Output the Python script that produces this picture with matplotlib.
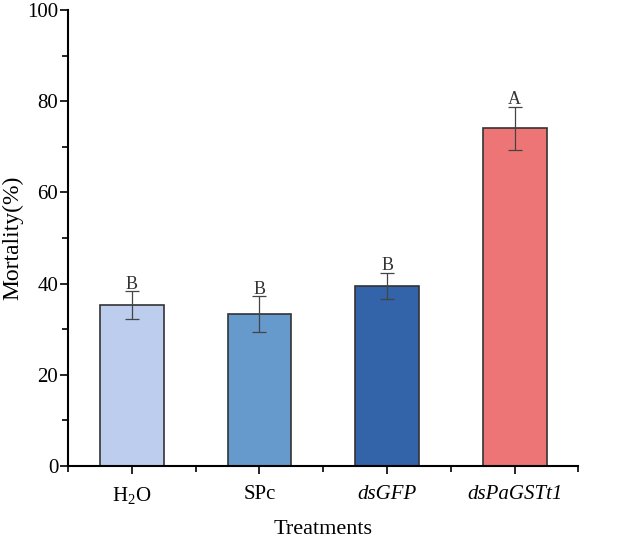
import numpy as np
import matplotlib.pyplot as plt
from matplotlib.ticker import MultipleLocator, FixedLocator

plt.rcParams['font.family'] = ['Liberation Serif', 'DejaVu Serif']
plt.rcParams['mathtext.fontset'] = 'custom'
plt.rcParams['mathtext.rm'] = 'Liberation Serif'
plt.rcParams['mathtext.it'] = 'Liberation Serif:italic'

# data
treatments = ["H$_2$O", "SPc", "dsGFP", "dsPaGSTt1"]
italic_label = [False, False, True, True]
mortality = [35.3, 33.3, 39.5, 74.1]
errors = [3.0, 3.9, 2.9, 4.7]
letters = ["B", "B", "B", "A"]
colors = ["#BCCDEE", "#6699CC", "#3363A8", "#EE7575"]

fig = plt.figure(figsize=(6.21, 5.39), dpi=100)
ax = fig.add_axes([0.1095, 0.1354, 0.822, 0.846])

x = np.arange(1, len(treatments) + 1)
ax.bar(x, mortality, width=0.5, color=colors, edgecolor="#333333", linewidth=1.2, zorder=2)
ax.errorbar(x, mortality, yerr=errors, fmt="none", ecolor="#444444",
            elinewidth=0.9, capsize=5, capthick=0.9, zorder=3)

for xi, m, e, lab in zip(x, mortality, errors, letters):
    ax.text(xi, m + e - 0.3, lab, ha="center", va="bottom", fontsize=13, color="#333333")

ax.set_xlim(0.5, 4.5)
ax.set_ylim(0, 100)
ax.set_xticks(x)
ax.set_xticklabels(treatments, fontsize=15)
for t, it in zip(ax.get_xticklabels(), italic_label):
    if it:
        t.set_fontstyle("italic")
ax.xaxis.set_minor_locator(FixedLocator([0.5, 1.5, 2.5, 3.5, 4.5]))
ax.yaxis.set_major_locator(MultipleLocator(20))
ax.yaxis.set_minor_locator(MultipleLocator(10))
ax.tick_params(axis="y", labelsize=15, pad=1)
ax.tick_params(which="major", direction="out", length=6, width=1.2)
ax.tick_params(which="minor", direction="out", length=4, width=1.2)
ax.tick_params(axis="x", pad=8)

for s in ["top", "right"]:
    ax.spines[s].set_visible(False)
for s in ["left", "bottom"]:
    ax.spines[s].set_linewidth(1.5)

ax.set_xlabel("Treatments", fontsize=16, labelpad=10)
ax.set_ylabel("Mortality(%)", fontsize=17, labelpad=3)

fig.savefig("out.png", dpi=100)
